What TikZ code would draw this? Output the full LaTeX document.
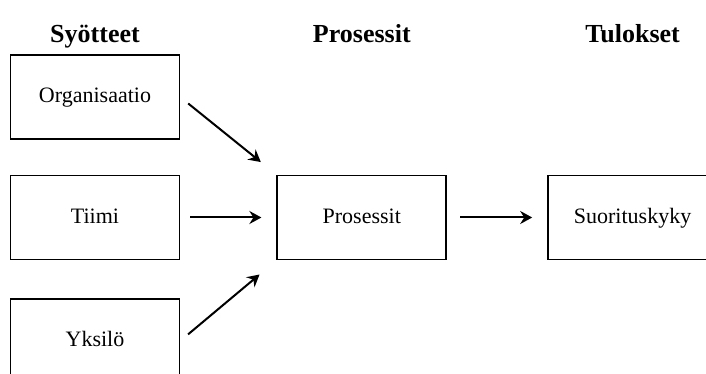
\documentclass[tikz,border=0pt]{standalone}
\usepackage{fontspec}
\setmainfont{Liberation Serif}
\usetikzlibrary{positioning,arrows.meta}

\begin{document}
\begin{tikzpicture}[node distance=17.25pt,
    box/.style={draw,line width=0.9pt,minimum width=84.5pt,minimum height=42pt,text height=1.6ex,text depth=0.4ex,font=\fontsize{11}{13}\selectfont},
    title/.style={font=\bfseries\fontsize{13}{15}\selectfont,anchor=base},
    arr/.style={-{Stealth[length=6pt,width=6.5pt,inset=2pt]},line width=1pt}]
            \useasboundingbox (-47.5pt,-78.25pt) rectangle (305.5pt,108.75pt);
            \node[box] (tiimi) at (0,0) {Tiimi};
            \node[box,above=17.25pt of tiimi] (org) {Organisaatio};
            \node[box,below=18.75pt of tiimi] (yks) {Yksilö};
            \node[box,right=48pt of tiimi] (pros) {Prosessit};
            \node[box,right=50pt of pros] (suor) {Suorituskyky};
            \node[title,above=6pt of org.north,anchor=base] (syot) {Syötteet};
            \node[title] (prosh) at (syot.base -| pros.north) {Prosessit};
            \node[title] (tul) at (syot.base -| suor.north) {Tulokset};
            \draw[arr,shorten <=5pt,shorten >=10pt] (org.east) -- (pros.north west);
            \draw[arr,shorten <=5pt,shorten >=7.5pt] (tiimi) -- (pros);
            \draw[arr,shorten <=5pt,shorten >=11pt] (yks.east) -- (pros.south west);
            \draw[arr,shorten <=6.5pt,shorten >=7.5pt] (pros) -- (suor);
        \end{tikzpicture}
\end{document}
